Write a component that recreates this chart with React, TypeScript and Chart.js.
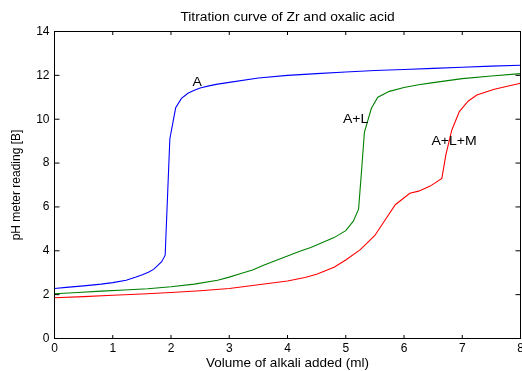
import React, { useEffect, useRef } from "react";
import { Chart, registerables } from "chart.js";

Chart.register(...registerables);

// ---- Data ----
const xA = [0, 0.2, 0.5, 0.8, 1.0, 1.23, 1.4, 1.52, 1.62, 1.7, 1.76, 1.84, 1.9, 1.98, 2.08, 2.18, 2.29, 2.4, 2.5, 2.65, 2.8, 3.0, 3.5, 4.0, 4.5, 5.0, 5.5, 6.0, 6.5, 7.0, 7.5, 8.0];
const yA = [2.28, 2.33, 2.4, 2.48, 2.55, 2.66, 2.8, 2.92, 3.03, 3.15, 3.3, 3.5, 3.8, 9.1, 10.52, 10.95, 11.18, 11.32, 11.42, 11.52, 11.6, 11.68, 11.88, 12.0, 12.08, 12.15, 12.22, 12.27, 12.32, 12.37, 12.42, 12.46];

const xAL = [0, 0.4, 0.8, 1.2, 1.6, 2.0, 2.4, 2.8, 3.0, 3.2, 3.4, 3.6, 3.8, 4.0, 4.2, 4.4, 4.6, 4.8, 5.0, 5.13, 5.22, 5.27, 5.32, 5.44, 5.55, 5.75, 6.0, 6.25, 6.5, 7.0, 7.5, 8.0];
const yAL = [2.04, 2.1, 2.16, 2.21, 2.27, 2.36, 2.48, 2.66, 2.8, 2.96, 3.12, 3.35, 3.56, 3.76, 3.97, 4.15, 4.38, 4.6, 4.92, 5.35, 5.9, 7.6, 9.4, 10.5, 11.0, 11.27, 11.45, 11.57, 11.67, 11.85, 11.97, 12.08];

const xALM = [0, 0.5, 1.0, 1.5, 2.0, 2.5, 3.0, 3.5, 4.0, 4.3, 4.5, 4.8, 5.0, 5.25, 5.5, 5.65, 5.85, 6.1, 6.25, 6.45, 6.65, 6.72, 6.82, 6.95, 7.1, 7.25, 7.55, 8.0];
const yALM = [1.86, 1.91, 1.97, 2.03, 2.1, 2.18, 2.28, 2.45, 2.62, 2.78, 2.93, 3.25, 3.58, 4.05, 4.7, 5.3, 6.1, 6.62, 6.72, 6.95, 7.3, 8.4, 9.5, 10.35, 10.82, 11.1, 11.37, 11.64];

const seriesNames = ["A", "A+L", "A+L+M"];
const seriesColors = ["#0000ff", "#008000", "#ff0000"];
const labelX = [2.45, 5.17, 6.86];
const labelY = [11.7, 10.0, 9.0];

const xMin = 0, xMax = 8, xStep = 1;
const yMin = 0, yMax = 14, yStep = 2;

const titleText = "Titration curve of Zr and oxalic acid";
const xTitle = "Volume of alkali added (ml)";
const yTitle = "pH meter reading [B]";

const FONT = "'Liberation Sans', Arial, Helvetica, sans-serif";

function toPoints(xs: number[], ys: number[]) {
  return xs.map((x, i) => ({ x, y: ys[i] }));
}

function stretchedText(ctx: CanvasRenderingContext2D, text: string, x: number, y: number, sx: number) {
  ctx.save();
  ctx.translate(x, y);
  ctx.scale(sx, 1);
  ctx.fillText(text, 0, 0);
  ctx.restore();
}

const matlabPlugin = {
  id: "matlabBox",
  afterDatasetsDraw(chart: any) {
    const { ctx, chartArea } = chart;
    const { left, right, top, bottom } = chartArea;
    const xs = chart.scales.x;
    const ys = chart.scales.y;
    ctx.save();
    ctx.strokeStyle = "#000";
    ctx.lineWidth = 1;
    ctx.strokeRect(left, top, right - left, bottom - top);
    ctx.beginPath();
    xs.ticks.forEach((t: any) => {
      const px = xs.getPixelForValue(t.value);
      ctx.moveTo(px, bottom);
      ctx.lineTo(px, bottom - 3.5);
      ctx.moveTo(px, top);
      ctx.lineTo(px, top + 3.5);
    });
    ys.ticks.forEach((t: any) => {
      const py = ys.getPixelForValue(t.value);
      ctx.moveTo(left, py);
      ctx.lineTo(left + 5, py);
      ctx.moveTo(right, py);
      ctx.lineTo(right - 5, py);
    });
    ctx.stroke();

    ctx.fillStyle = "#000";
    ctx.textAlign = "center";
    ctx.textBaseline = "middle";
    ctx.font = `13px ${FONT}`;
    seriesNames.forEach((name, i) => {
      stretchedText(ctx, name, xs.getPixelForValue(labelX[i]), ys.getPixelForValue(labelY[i]), 1.08);
    });
    ctx.font = `12px ${FONT}`;
    stretchedText(ctx, titleText, (left + right) / 2, 17.5, 1.15);
    ctx.restore();
  },
};

export default function App() {
  const canvasRef = useRef<HTMLCanvasElement | null>(null);

  useEffect(() => {
    const canvas = canvasRef.current;
    if (!canvas) return;
    const dataSets = [
      toPoints(xA, yA),
      toPoints(xAL, yAL),
      toPoints(xALM, yALM),
    ];
    const chart = new Chart(canvas, {
      type: "line",
      data: {
        datasets: dataSets.map((d, i) => ({
          label: seriesNames[i],
          data: d,
          borderColor: seriesColors[i],
          backgroundColor: seriesColors[i],
          borderWidth: 1.1,
          pointRadius: 0,
          tension: 0,
          fill: false,
        })),
      },
      options: {
        responsive: false,
        animation: false,
        layout: { padding: { top: 31.5, right: 1.5, left: 0, bottom: 0 } },
        plugins: {
          legend: { display: false },
          title: { display: false },
          tooltip: { enabled: false },
        },
        scales: {
          x: {
            type: "linear",
            min: xMin,
            max: xMax,
            grid: { display: false, drawTicks: false },
            border: { display: false },
            ticks: {
              stepSize: xStep,
              color: "#000",
              padding: 3,
              maxRotation: 0,
              font: { family: FONT, size: 12 },
            },
            title: {
              display: true,
              text: xTitle,
              color: "#000",
              font: { family: FONT, size: 13.5 },
              padding: { top: 0, bottom: 0 },
            },
            afterFit(scale: any) {
              scale.height = 32.5;
              scale.paddingLeft = 0;
              scale.paddingRight = 0;
            },
          },
          y: {
            type: "linear",
            min: yMin,
            max: yMax,
            grid: { display: false, drawTicks: false },
            border: { display: false },
            ticks: {
              stepSize: yStep,
              color: "#000",
              padding: 5,
              font: { family: FONT, size: 12 },
            },
            title: {
              display: true,
              text: yTitle,
              color: "#000",
              font: { family: FONT, size: 12 },
              padding: { top: 9, bottom: 0 },
            },
            afterFit(scale: any) {
              scale.width = 54.5;
              scale.paddingTop = 0;
              scale.paddingBottom = 0;
            },
          },
        },
      },
      plugins: [matlabPlugin],
    } as any);
    return () => chart.destroy();
  }, []);

  return (
    <div style={{ position: "absolute", left: 0, top: 0, width: 522, height: 371, background: "#fff" }}>
      <canvas ref={canvasRef} width={522} height={371} style={{ display: "block" }} />
    </div>
  );
}
